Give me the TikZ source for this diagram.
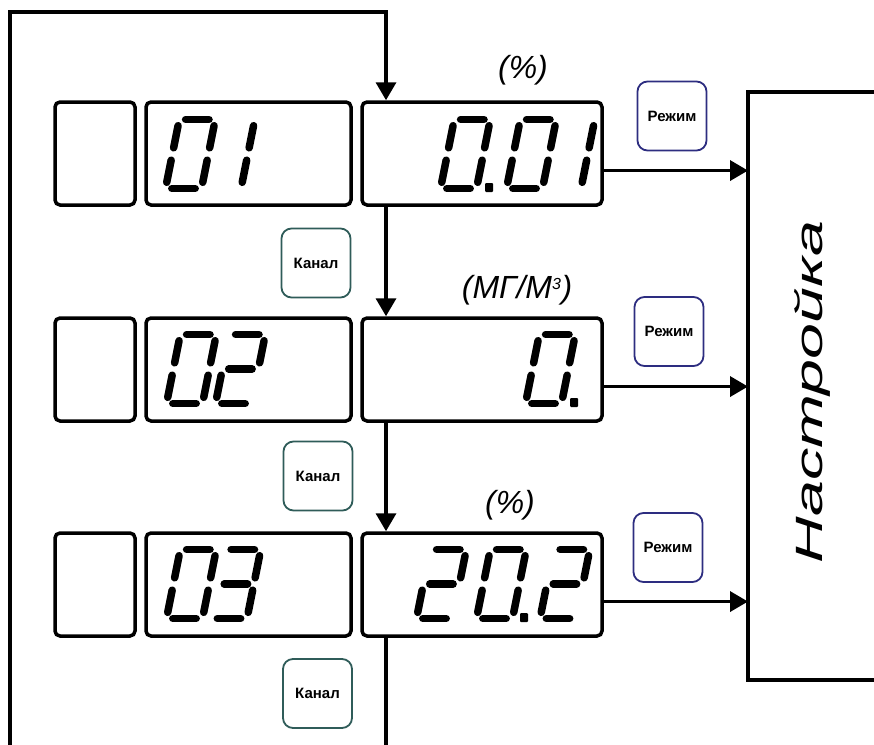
\documentclass[tikz,border=0pt]{standalone}
\usepackage{fontspec}
\setmainfont{Liberation Sans}
\usetikzlibrary{arrows.meta,calc}

\definecolor{chancolor}{HTML}{2F5C59}
\definecolor{modecolor}{HTML}{2D2D80}

\tikzset{
  lcdbox/.style = {draw, line width=3.5pt, rounded corners=5pt, inner sep=0pt},
  keybtn/.style = {draw, line width=1.8pt, rounded corners=10pt, inner sep=0pt,
    minimum width=69pt, minimum height=69pt, font=\bfseries\fontsize{15}{17}\selectfont},
  chankey/.style = {keybtn, draw=chancolor},
  modekey/.style = {keybtn, draw=modecolor},
  unitlabel/.style = {font=\itshape\fontsize{32}{36}\selectfont},
  flow/.style = {line width=3.5pt},
  flowarrow/.style = {flow, -{Triangle[width=20pt,length=18pt]}},
  seg/.style = {line width=7.5pt, line cap=round, shorten >=6.3pt, shorten <=6.3pt},
}

% segments of the lcd digits
\def\dzero{TL/TR,TR/MR,MR/BR,BR/BL,BL/ML,ML/TL}
\def\done{TR/MR,MR/BR}
\def\dtwo{TL/TR,TR/MR,MR/ML,ML/BL,BL/BR}
\def\dthree{TL/TR,TR/MR,MR/BR,BR/BL,ML/MR}

\newcommand{\lcddigit}[3]{%
  \begin{scope}[shift={(#1,#2)}, xslant=0.2]
    \coordinate (BL) at (0,0);     \coordinate (BR) at (36,0);
    \coordinate (ML) at (0,-34.5); \coordinate (MR) at (36,-34.5);
    \coordinate (TL) at (0,-69);   \coordinate (TR) at (36,-69);
    \foreach \p/\q in #3 {\draw[seg] (\p) -- (\q);}
  \end{scope}}
\newcommand{\lcdpoint}[2]{\fill[rounded corners=1pt] (#1,#2) rectangle ++(8,-9);}

\begin{document}
\begin{tikzpicture}[x = 1pt, y = -1pt]
    \useasboundingbox (0,0) rectangle (874,744);

    % display rows
    \node[lcdbox, minimum width=80pt, minimum height=103pt] (ind1) at (95,153.5) {};
    \node[lcdbox, minimum width=205pt, minimum height=103pt] (ch1) at (248.5,153.5) {};
    \node[lcdbox, minimum width=240pt, minimum height=103pt] (val1) at (482,153.5) {};

    \node[lcdbox, minimum width=80pt, minimum height=103pt] (ind2) at (95,369.5) {};
    \node[lcdbox, minimum width=205pt, minimum height=103pt] (ch2) at (248.5,369.5) {};
    \node[lcdbox, minimum width=240pt, minimum height=103pt] (val2) at (482,369.5) {};

    \node[lcdbox, minimum width=80pt, minimum height=103pt] (ind3) at (95,584.5) {};
    \node[lcdbox, minimum width=205pt, minimum height=103pt] (ch3) at (248.5,584.5) {};
    \node[lcdbox, minimum width=240pt, minimum height=103pt] (val3) at (482,584.5) {};

    % digits
    \lcddigit{165.5}{188.5}{\dzero}
    \lcddigit{205}{188.5}{\done}
    \lcddigit{440.5}{188.5}{\dzero}
    \lcdpoint{485}{192}
    \lcddigit{506.5}{188.5}{\dzero}
    \lcddigit{545}{188.5}{\done}

    \lcddigit{166.5}{403.5}{\dzero}
    \lcddigit{215.5}{403.5}{\dtwo}
    \lcddigit{525.5}{403.5}{\dzero}
    \lcdpoint{570}{407}

    \lcddigit{166.5}{618.5}{\dzero}
    \lcddigit{211}{618.5}{\dthree}
    \lcddigit{416.5}{618.5}{\dtwo}
    \lcddigit{476.5}{618.5}{\dzero}
    \lcdpoint{520}{622}
    \lcddigit{540}{618.5}{\dtwo}

    % units
    \node[unitlabel] (unit1) at (523,70) {(\%)};
    \node[unitlabel] (unit2) at (517,290) {(МГ/М\textsuperscript{\fontsize{16}{16}\selectfont 3})};
    \node[unitlabel] (unit3) at (510,505) {(\%)};

    % keys
    \node[chankey] (chan1) at (316,263) {Канал};
    \node[chankey] (chan2) at (318,476) {Канал};
    \node[chankey] (chan3) at (317.5,693.5) {Канал};
    \node[modekey] (mode1) at (672,116) {Режим};
    \node[modekey] (mode2) at (669,331.5) {Режим};
    \node[modekey] (mode3) at (668,547.5) {Режим};

    % setup block
    \node[inner sep=0pt, outer sep=0pt, minimum width=130pt, minimum height=588pt] (setup) at (813,386) {};
    \draw[flow] (setup.north east) -- (setup.north west) -- (setup.south west) -- (setup.south east);
    \node[rotate=90, font=\itshape\fontsize{38}{40}\selectfont] (setuplabel) at (812,392) {\scalebox{1.7}[1]{Настройка}};

    % channel loop
    \coordinate (topleft) at (10,12);
    \coordinate (topright) at (386,12);
    \coordinate (botleft) at (10,746);
    \coordinate (botright) at (386,746);
    \draw[flowarrow] (botleft) -- (topleft) -- (topright) -- (topright |- val1.north);
    \draw[flowarrow] (topright |- val1.south) -- (topright |- val2.north);
    \draw[flowarrow] (topright |- val2.south) -- (topright |- val3.north);
    \draw[flow] (topright |- val3.south) -- (botright);

    % to setup
    \coordinate (out1) at ($(val1.north east)!0.66!(val1.south east)$);
    \coordinate (out2) at ($(val2.north east)!0.66!(val2.south east)$);
    \coordinate (out3) at ($(val3.north east)!0.66!(val3.south east)$);
    \draw[flowarrow] (out1) -- (out1 -| setup.west);
    \draw[flowarrow] (out2) -- (out2 -| setup.west);
    \draw[flowarrow] (out3) -- (out3 -| setup.west);
\end{tikzpicture}
\end{document}
